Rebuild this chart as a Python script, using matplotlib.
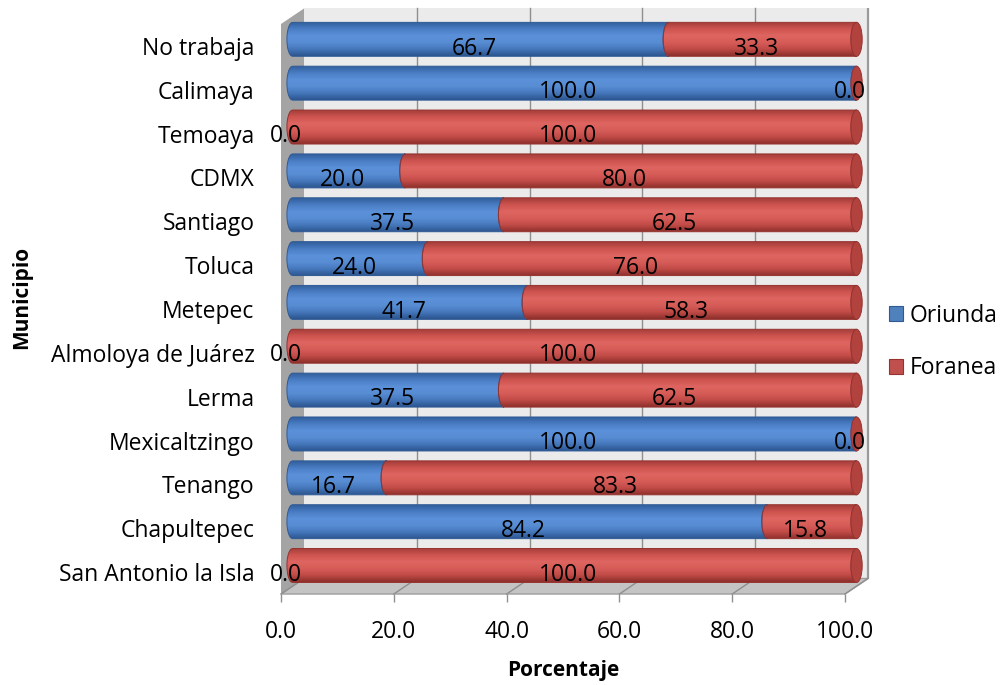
import numpy as np
import matplotlib
matplotlib.use("Agg")
import matplotlib.pyplot as plt
from matplotlib.patches import Polygon, Ellipse, Patch
from matplotlib.colors import LinearSegmentedColormap, to_rgb

plt.rcParams['font.family'] = ['Open Sans', 'DejaVu Sans']

# ---- data -------------------------------------------------------------
municipios = ['No trabaja', 'Calimaya', 'Temoaya', 'CDMX', 'Santiago', 'Toluca',
              'Metepec', 'Almoloya de Juárez', 'Lerma', 'Mexicaltzingo',
              'Tenango', 'Chapultepec', 'San Antonio la Isla']
oriunda = [66.7, 100.0, 0.0, 20.0, 37.5, 24.0, 41.7, 0.0, 37.5, 100.0, 16.7, 84.2, 0.0]
foranea = [33.3, 0.0, 100.0, 80.0, 62.5, 76.0, 58.3, 100.0, 62.5, 0.0, 83.3, 15.8, 100.0]
series_names = ['Oriunda', 'Foranea']
x_ticks = [0, 20, 40, 60, 80, 100]

# ---- styling ----------------------------------------------------------
blue_stops = ['#33609e', '#4a7dc4', '#5b91d9', '#588dd4', '#4577bb', '#2c5690']
red_stops = ['#a53e3a', '#cf5450', '#de6561', '#d75c58', '#c04b47', '#8e302c']
cap_colors = {'Oriunda': '#3f6fb0', 'Foranea': '#b2423e'}
edge_colors = {'Oriunda': '#2f5a95', 'Foranea': '#96332f'}
legend_colors = {'Oriunda': '#4f81bd', 'Foranea': '#c0504d'}
label_fs = 16.5

W, H = 1001, 685
fig = plt.figure(figsize=(W / 100, H / 100), dpi=100)
# front plane of the 3-D box
ax = fig.add_axes([281 / W, 1 - 594 / H, 564 / W, 570 / H])
n = len(municipios)
ax.set_xlim(0, 100)
ax.set_ylim(n - 0.5, -0.5)

# depth of the box in data units (x to the right, y upward)
dx = 23 / 5.64
dy = 15.5 / (570 / n)
# cylinders sit half way into the box
bx = 2.05
by = -0.15
half_h = 0.3875
rx = 1.0

top, bot = -0.5, n - 0.5

# back wall
ax.add_patch(Polygon([(dx, top - dy), (100 + dx, top - dy), (100 + dx, bot - dy), (dx, bot - dy)],
                     closed=True, facecolor='#ebebeb', edgecolor='none', zorder=0, clip_on=False))
ax.plot([100 + dx, 100 + dx], [top - dy, bot - dy], color='#9a9a9a', lw=1.6, zorder=0.5,
        clip_on=False, solid_capstyle='butt')
# left wall
ax.add_patch(Polygon([(0, top), (dx, top - dy), (dx, bot - dy), (0, bot)],
                     closed=True, facecolor='#a4a4a4', edgecolor='none', zorder=0.6, clip_on=False))
# floor
ax.add_patch(Polygon([(0, bot), (dx, bot - dy), (100 + dx, bot - dy), (100, bot)],
                     closed=True, facecolor='#c4c4c4', edgecolor='#9c9c9c', lw=1.0,
                     zorder=0.6, clip_on=False))
# gridlines on the wall and the floor
for xv in x_ticks:
    if 0 < xv < 100:
        ax.plot([xv + dx, xv + dx], [top - dy, bot - dy], color='#8f8f8f', lw=1.0, zorder=0.5,
                clip_on=False)
    ax.plot([xv + dx, xv], [bot - dy, bot], color='#8f8f8f', lw=1.0, zorder=0.7, clip_on=False)


def gradient_cmap(stops):
    return LinearSegmentedColormap.from_list('g', [to_rgb(c) for c in stops])


grad = np.linspace(0, 1, 64).reshape(-1, 1)
cmaps = {'Oriunda': gradient_cmap(blue_stops), 'Foranea': gradient_cmap(red_stops)}

t = np.linspace(-1, 1, 61)
bulge = rx * np.sqrt(1 - t ** 2)

for i in range(n):
    yc = i + by
    ys = yc + t * half_h
    start = 0.0
    for name, val in zip(series_names, (oriunda[i], foranea[i])):
        a, b = start, start + val
        if val > 0:
            left = a + bx - bulge
            right = b + bx - bulge
            verts = list(zip(left, ys)) + list(zip(right[::-1], ys[::-1]))
            shape = Polygon(verts, closed=True, transform=ax.transData)
            im = ax.imshow(grad, cmap=cmaps[name], aspect='auto', interpolation='bilinear',
                           extent=(a + bx - rx - 0.2, b + bx + 0.2, yc + half_h, yc - half_h),
                           zorder=2)
            im.set_clip_path(shape)
            im.set_clip_box(fig.bbox)
            ax.add_patch(Polygon(verts, closed=True, facecolor='none',
                                 edgecolor=edge_colors[name], lw=0.7, zorder=2.1,
                                 clip_on=False))
        start = b
    # visible end face of the cylinder
    ax.add_patch(Ellipse((100 + bx, yc), 2 * rx, 2 * half_h, facecolor=cap_colors['Foranea'],
                         edgecolor=edge_colors['Foranea'], lw=0.7, zorder=2.2, clip_on=False))

# value labels
lx = 0.95
ly = 0.06
for i in range(n):
    start = 0.0
    for val in (oriunda[i], foranea[i]):
        ax.text(start + val / 2 + lx, i + ly, f'{val:.1f}', ha='center', va='center',
                fontsize=label_fs, color='black', zorder=5, clip_on=False)
        start += val

ax.set_yticks(range(n))
ax.set_yticklabels(municipios, fontsize=label_fs)
ax.set_xticks(x_ticks)
ax.set_xticklabels([f'{v:.1f}' for v in x_ticks], fontsize=label_fs)
ax.tick_params(axis='y', length=0, pad=19)
ax.tick_params(axis='x', length=6, width=1, color='#8f8f8f', pad=13)
for s in ax.spines.values():
    s.set_visible(False)
ax.patch.set_visible(False)

ax.set_xlabel('Porcentaje', fontsize=15, fontweight='bold', labelpad=11)
ax.set_ylabel('Municipio', fontsize=15, fontweight='bold')
ax.yaxis.set_label_coords((32 - 281) / 564, (594 - 297) / 570)

handles = [Patch(facecolor=legend_colors[s], edgecolor=edge_colors[s], lw=0.8) for s in series_names]
fig.legend(handles, series_names, loc='center left', bbox_to_anchor=(889 / W, 1 - 342 / H),
           frameon=False, fontsize=label_fs, handlelength=0.62, handleheight=0.62,
           handletextpad=0.3, labelspacing=1.25, borderpad=0, borderaxespad=0)

fig.savefig('out.png', dpi=100)
